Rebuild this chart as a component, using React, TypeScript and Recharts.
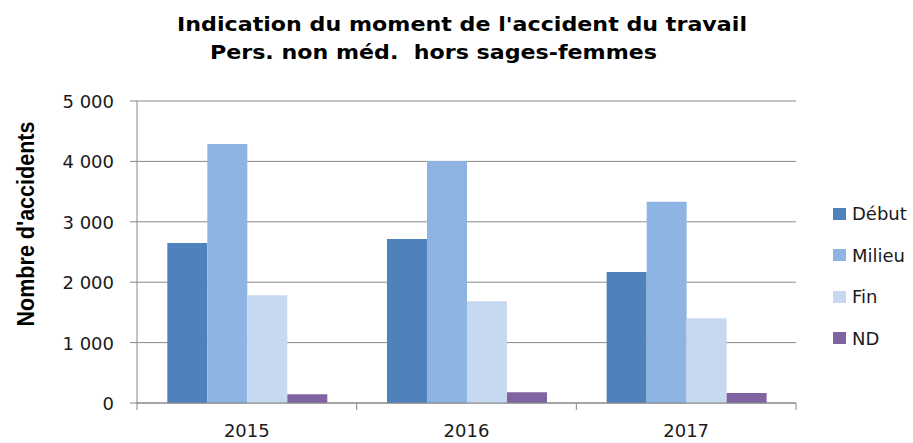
import { BarChart, Bar, XAxis, YAxis, CartesianGrid } from "recharts";

const years = ["2015", "2016", "2017"];
const debut = [2650, 2715, 2170];
const milieu = [4290, 4005, 3330];
const fin = [1785, 1685, 1405];
const nd = [145, 180, 165];
const yTicks = [0, 1000, 2000, 3000, 4000, 5000];

const series = [
  { key: "Début", values: debut, color: "#4F81BD" },
  { key: "Milieu", values: milieu, color: "#8EB4E3" },
  { key: "Fin", values: fin, color: "#C6D9F1" },
  { key: "ND", values: nd, color: "#8064A2" },
];

const data = years.map((y, i) => {
  const row: Record<string, string | number> = { year: y };
  series.forEach((s) => (row[s.key] = s.values[i]));
  return row;
});

const font = "'DejaVu Sans', sans-serif";
const axisGrey = "#868686";

const fmt = (v: number) => String(v).replace(/\B(?=(\d{3})+(?!\d))/g, " ");

function YTick({ x, y, payload }: any) {
  return (
    <text x={x} y={y + 7} textAnchor="end" fontFamily={font} fontSize={18} fill="#1a1a1a">
      {fmt(payload.value)}
    </text>
  );
}

function XTick({ x, y, payload, index }: any) {
  const half = payload.offset ?? 0;
  return (
    <g>
      <line x1={x - half} x2={x - half} y1={y} y2={y + 7} stroke={axisGrey} />
      {index === years.length - 1 && (
        <line x1={x + half} x2={x + half} y1={y} y2={y + 7} stroke={axisGrey} />
      )}
      <text x={x} y={y + 34} textAnchor="middle" fontFamily={font} fontSize={18} fill="#1a1a1a">
        {payload.value}
      </text>
    </g>
  );
}

export default function App() {
  return (
    <div style={{ position: "absolute", left: 0, top: 0, width: 913, height: 443, background: "#fff" }}>
      <BarChart
        width={913}
        height={443}
        data={data}
        margin={{ top: 101, right: 117, left: 0, bottom: 0 }}
        barGap={0}
        barCategoryGap="13.8%"
      >
        <CartesianGrid vertical={false} stroke="#8a8a8a" />
        <XAxis
          dataKey="year"
          height={40}
          axisLine={{ stroke: axisGrey }}
          tickLine={false}
          tickSize={0}
          tickMargin={0}
          tick={<XTick />}
          interval={0}
        />
        <YAxis
          width={137}
          domain={[0, 5000]}
          ticks={yTicks}
          interval={0}
          axisLine={{ stroke: axisGrey }}
          tickLine={{ stroke: axisGrey }}
          tickSize={7}
          tickMargin={16}
          tick={<YTick />}
        />
        {series.map((s) => (
          <Bar key={s.key} dataKey={s.key} fill={s.color} isAnimationActive={false} />
        ))}
      </BarChart>

      <svg width={913} height={443} style={{ position: "absolute", left: 0, top: 0, pointerEvents: "none" }}>
        <text
          x={177}
          y={31}
          fontFamily={font}
          fontWeight="bold"
          fontSize={20}
          textLength={570}
          lengthAdjust="spacingAndGlyphs"
          fill="#000"
        >
          Indication du moment de l'accident du travail
        </text>
        <text
          x={210}
          y={59}
          fontFamily={font}
          fontWeight="bold"
          fontSize={20}
          textLength={447}
          lengthAdjust="spacingAndGlyphs"
          fill="#000"
        >
          {"Pers. non méd.\u00a0 hors sages-femmes"}
        </text>
        <text
          transform="translate(34,224) rotate(-90)"
          textAnchor="middle"
          fontFamily="'Liberation Sans', Arial, sans-serif"
          fontWeight="bold"
          fontSize={23}
          textLength={205}
          lengthAdjust="spacingAndGlyphs"
          fill="#000"
        >
          Nombre d'accidents
        </text>
      </svg>

      <div style={{ position: "absolute", left: 833, top: 193, fontFamily: font, fontSize: 18, color: "#1a1a1a" }}>
        {series.map((s) => (
          <div key={s.key} style={{ display: "flex", alignItems: "center", height: 42, marginTop: -0.5 }}>
            <span style={{ display: "inline-block", width: 13, height: 12, background: s.color, marginRight: 6 }} />
            <span>{s.key}</span>
          </div>
        ))}
      </div>
    </div>
  );
}
